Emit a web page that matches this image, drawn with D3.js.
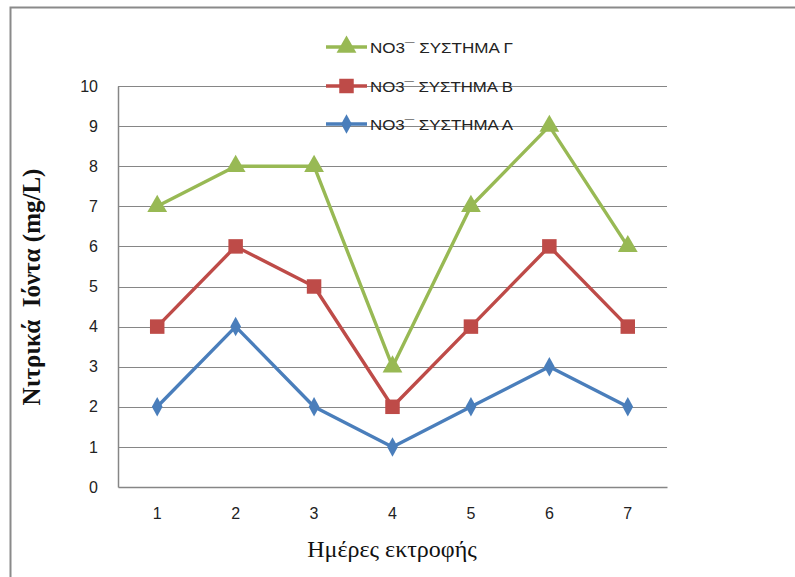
<!DOCTYPE html>
<html>
<head>
<meta charset="utf-8">
<script src="https://cdn.jsdelivr.net/npm/d3@7"></script>
<style>
  html, body { margin: 0; padding: 0; background: #fff; }
  svg { display: block; }
</style>
</head>
<body>
<svg id="chart" width="795" height="577"></svg>
<script>
// Days of rearing
const days = [1, 2, 3, 4, 5, 6, 7];
// Nitrate concentration (mg/L) per system
const systemA = [2, 4, 2, 1, 2, 3, 2];
const systemB = [4, 6, 5, 2, 4, 6, 4];
const systemG = [7, 8, 8, 3, 7, 9, 6];
const seriesNames = ["ΝΟ3¯ ΣΥΣΤΗΜΑ Γ", "ΝΟ3¯ ΣΥΣΤΗΜΑ Β", "ΝΟ3¯ ΣΥΣΤΗΜΑ Α"];
const yTicks = [0, 1, 2, 3, 4, 5, 6, 7, 8, 9, 10];

const series = [
  { name: seriesNames[2], values: systemA, color: "#4a7ebb", symbol: d3.symbolDiamond, size: 110, sx: 0.95 },
  { name: seriesNames[1], values: systemB, color: "#be4b48", symbol: d3.symbolSquare, size: 210, sx: 1 },
  { name: seriesNames[0], values: systemG, color: "#98b954", symbol: d3.symbolTriangle, size: 170, sx: 1 }
];

const svg = d3.select("#chart");

// outer frame
svg.append("path")
  .attr("d", "M10.5,577 L10.5,7.5 L795,7.5")
  .attr("fill", "none").attr("stroke", "#8a8a8a").attr("stroke-width", 2);

const plotLeft = 118, plotRight = 667, plotTop = 86, plotBottom = 487;

const x = d3.scaleBand().domain(days).range([plotLeft, plotRight]);
const y = d3.scaleLinear().domain([0, 10]).range([plotBottom, plotTop]);

// horizontal gridlines
svg.append("g").selectAll("line").data(yTicks.filter(t => t > 0)).join("line")
  .attr("x1", plotLeft).attr("x2", plotRight)
  .attr("y1", d => Math.round(y(d)) + 0.5).attr("y2", d => Math.round(y(d)) + 0.5)
  .attr("stroke", "#868686").attr("stroke-width", 1.2);

// y axis
const yAxis = svg.append("g").attr("transform", `translate(${plotLeft},0)`)
  .call(d3.axisLeft(y).tickValues(yTicks).tickSize(0).tickPadding(20));
yAxis.select(".domain").attr("stroke", "#868686").attr("stroke-width", 1.5);
yAxis.selectAll("text").attr("font-family", "Liberation Sans, Arial, sans-serif")
  .attr("font-size", 16).attr("fill", "#222");

// x axis
const xAxis = svg.append("g").attr("transform", `translate(0,${plotBottom})`)
  .call(d3.axisBottom(x).tickSize(0).tickPadding(21));
xAxis.select(".domain").attr("stroke", "#868686").attr("stroke-width", 1.5);
xAxis.selectAll("text").attr("font-family", "Liberation Sans, Arial, sans-serif")
  .attr("font-size", 16).attr("fill", "#222");

const cx = d => x(d) + x.bandwidth() / 2;

// lines and markers
series.forEach(s => {
  const pts = days.map((d, i) => [cx(d), y(s.values[i])]);
  svg.append("path")
    .attr("d", d3.line()(pts))
    .attr("fill", "none").attr("stroke", s.color).attr("stroke-width", 3.4)
    .attr("stroke-linejoin", "round");
  svg.append("g").selectAll("path").data(pts).join("path")
    .attr("d", d3.symbol().type(s.symbol).size(s.size))
    .attr("transform", p => `translate(${p[0]},${p[1]}) scale(${s.sx},1)`)
    .attr("fill", s.color);
});

// legend
const legendY = [47, 86, 124];
const legendSeries = [series[2], series[1], series[0]];
legendSeries.forEach((s, i) => {
  const g = svg.append("g").attr("transform", `translate(0,${legendY[i]})`);
  g.append("line").attr("x1", 326).attr("x2", 367).attr("y1", 0).attr("y2", 0)
    .attr("stroke", s.color).attr("stroke-width", 3.4);
  g.append("path").attr("d", d3.symbol().type(s.symbol).size(s.size))
    .attr("transform", `translate(346.5,0) scale(${s.sx},1)`).attr("fill", s.color);
  g.append("text").attr("x", 370).attr("y", 6)
    .attr("font-family", "Liberation Sans, Arial, sans-serif").attr("font-size", 15)
    .attr("textLength", 143).attr("lengthAdjust", "spacingAndGlyphs")
    .attr("fill", "#222").text(s.name);
});

// axis titles
svg.append("text").attr("x", 392).attr("y", 557).attr("text-anchor", "middle")
  .attr("font-family", "Liberation Serif, Times New Roman, serif").attr("font-size", 24)
  .attr("fill", "#111").text("Ημέρες εκτροφής");

svg.append("text").attr("transform", "translate(40,287) rotate(-90)")
  .attr("text-anchor", "middle")
  .attr("font-family", "Liberation Serif, Times New Roman, serif").attr("font-size", 25)
  .attr("font-weight", "bold").attr("fill", "#111").attr("xml:space", "preserve")
  .text("Νιτρικά  Ιόντα (mg/L)");
</script>
</body>
</html>
